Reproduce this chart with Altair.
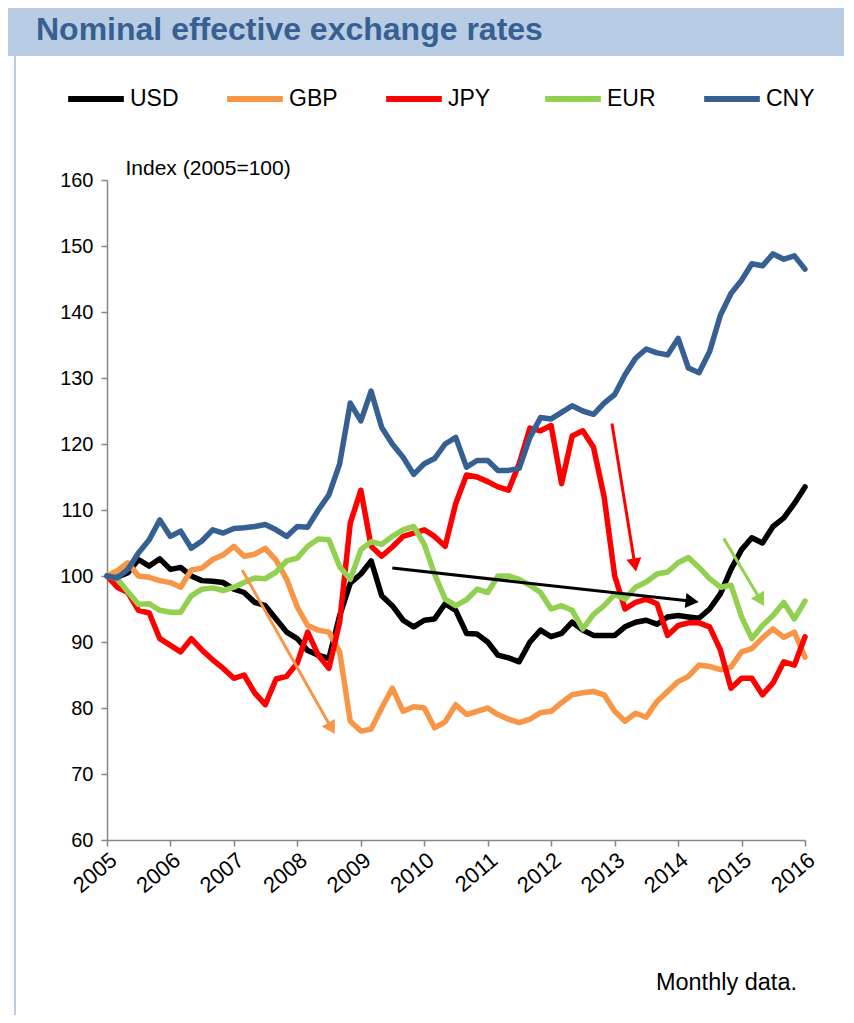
import altair as alt
import pandas as pd

# Bi-monthly readings, Jan 2005 .. Jan 2016 (index, 2005 = 100)
series_names = ["USD", "GBP", "JPY", "EUR", "CNY"]
series_colors = ["#000000", "#F79646", "#FF0000", "#92D050", "#376092"]

usd = [100, 99.8, 100.5, 102.5, 101.5, 102.6, 101, 101.3, 100, 99.3,
       99.2, 99, 98, 97.5, 96, 95.5, 93.5, 91.5, 90.5, 88.7,
       88, 87.5, 94, 98.9, 100.3, 102.3, 97, 95.5, 93.3, 92.3,
       93.3, 93.5, 95.8, 94.8, 91.3, 91.2, 90, 88, 87.6, 87,
       90, 91.8, 90.8, 91.3, 93, 91.8, 91, 91, 91, 92.3,
       93, 93.3, 92.7, 93.8, 94, 93.8, 93.6, 95, 97.3, 101,
       104, 105.8, 105, 107.5, 108.8, 111, 113.5]

gbp = [100, 100.8, 102, 100, 99.8, 99.3, 99, 98.3, 100.9, 101.2,
       102.5, 103.2, 104.5, 103, 103.3, 104.2, 102.4, 99.5, 95.3, 92.5,
       91.8, 91.5, 88.5, 78, 76.5, 76.8, 80, 83, 79.5, 80.2,
       80, 77, 77.9, 80.5, 79, 79.5, 80, 79, 78.3, 77.8,
       78.3, 79.3, 79.5, 80.8, 82, 82.3, 82.5, 82, 79.5, 78,
       79.2, 78.6, 81, 82.5, 84, 84.8, 86.5, 86.3, 85.8, 86.2,
       88.5, 89, 90.6, 92, 90.7, 91.5, 87.7]

jpy = [100, 98.3, 97.5, 94.8, 94.4, 90.5, 89.5, 88.5, 90.5, 88.8,
       87.3, 86, 84.5, 85, 82.3, 80.5, 84.4, 84.8, 86.8, 91.5,
       88, 86, 93, 108, 113, 104.5, 103, 104.4, 106, 106.5,
       107, 106, 104.5, 111, 115.3, 115, 114.3, 113.5, 113, 117,
       122.4, 122, 122.8, 114, 121.2, 122, 119.5, 112, 100, 95,
       96, 96.5, 95.8, 91, 92.5, 92.9, 92.9, 92.3, 88.8, 83,
       84.5, 84.5, 82, 83.8, 87, 86.5, 90.8]

eur = [100, 99.6, 97.6, 95.7, 95.8, 94.8, 94.5, 94.5, 97, 98,
       98.2, 97.8, 98.3, 99, 99.7, 99.6, 100.6, 102.3, 102.7, 104.5,
       105.6, 105.5, 101.4, 99.5, 104, 105.2, 104.8, 106, 107, 107.5,
       104.8, 100.3, 96.5, 95.5, 96.4, 98, 97.5, 100, 100, 99.5,
       98.6, 97.5, 95, 95.5, 94.8, 92, 94.2, 95.5, 97.2, 96.5,
       98.3, 99.1, 100.3, 100.6, 102, 102.8, 101.3, 99.6, 98.3, 98.6,
       93.8, 90.5, 92.5, 94, 96, 93.5, 96.2]

cny = [100, 99.7, 101, 103.5, 105.5, 108.5, 106, 106.8, 104.2, 105.3,
       107, 106.5, 107.2, 107.3, 107.5, 107.8, 107, 106, 107.5, 107.4,
       110, 112.3, 117, 126.2, 123.5, 128, 122.5, 120, 118, 115.4,
       117, 117.8, 120, 121, 116.5, 117.5, 117.5, 116, 116, 116.3,
       121, 124, 123.8, 124.8, 125.8, 125, 124.5, 126.2, 127.5, 130.5,
       133, 134.4, 133.8, 133.5, 136, 131.5, 130.8, 134, 139.5, 142.8,
       144.8, 147.3, 147, 148.8, 148, 148.5, 146.5]

dates = pd.date_range("2005-01-01", "2016-01-01", freq="2MS")

values = {"USD": usd, "GBP": gbp, "JPY": jpy, "EUR": eur, "CNY": cny}
rows = []
for s in series_names:
    for d, v in zip(dates, values[s]):
        rows.append({"date": d, "series": s, "value": v, "order": series_names.index(s)})
df = pd.DataFrame(rows)

# Annotation arrows (start / end in data units)
arrow_color = ["#F79646", "#FF0000", "#000000", "#92D050"]
arrow_x1 = pd.to_datetime(["2007-02-18", "2012-12-16", "2009-07-01", "2014-09-20"])
arrow_y1 = [100.9, 123.1, 101.2, 105.7]
arrow_x2 = pd.to_datetime(["2008-07-10", "2013-04-25", "2014-03-10", "2015-04-15"])
arrow_y2 = [77.2, 102.0, 96.2, 96.6]
arrow_angle = [150.5, 170.4, 96.6, 149.5]
arrows = pd.DataFrame({"c": arrow_color, "x1": arrow_x1, "y1": arrow_y1,
                       "x2": arrow_x2, "y2": arrow_y2, "a": arrow_angle})

FONT = "Liberation Sans"
W, H = 698, 660

x_enc = alt.X("date:T",
              scale=alt.Scale(domain=[alt.DateTime(year=2005, month=1, date=1),
                                      alt.DateTime(year=2016, month=1, date=1)]),
              axis=alt.Axis(values=[alt.DateTime(year=y, month=1, date=1) for y in range(2005, 2017)],
                            format="%Y", title=None, grid=False, labelAngle=-40,
                            labelAlign="right", labelBaseline="top", labelFontSize=22,
                            labelFont=FONT, labelColor="#000000", labelPadding=3,
                            domainColor="#868686", tickColor="#868686", tickSize=6,
                            domainWidth=1.5, tickWidth=1.5))
y_enc = alt.Y("value:Q",
              scale=alt.Scale(domain=[60, 160], nice=False, zero=False),
              axis=alt.Axis(values=list(range(60, 161, 10)), title="Index (2005=100)",
                            titleAngle=0, titleAlign="left", titleBaseline="middle",
                            titleX=18, titleY=-12, titleFontSize=21, titleFontWeight="normal",
                            titleFont=FONT, titleColor="#000000",
                            grid=False, labelFontSize=20, labelFont=FONT, labelColor="#000000",
                            labelPadding=8, domainColor="#868686", tickColor="#868686",
                            tickSize=6, domainWidth=1.5, tickWidth=1.5))

lines = alt.Chart(df).mark_line(strokeWidth=5.5, strokeJoin="round", strokeCap="round").encode(
    x=x_enc,
    y=y_enc,
    color=alt.Color("series:N",
                    scale=alt.Scale(domain=series_names, range=series_colors),
                    legend=alt.Legend(orient="none", legendX=-42, legendY=-112,
                                      direction="horizontal", columns=5, title=None,
                                      gridAlign="all",
                                      symbolType="stroke", symbolStrokeWidth=6,
                                      symbolSize=3100, labelFontSize=23, labelFont=FONT,
                                      labelColor="#000000", labelOffset=3,
                                      columnPadding=36)),
    order=alt.Order("order:Q"),
)

arrow_shaft = alt.Chart(arrows).mark_rule(strokeWidth=3).encode(
    x="x1:T", y="y1:Q", x2="x2:T", y2="y2:Q",
    color=alt.Color("c:N", scale=None, legend=None),
)
arrow_head = alt.Chart(arrows).mark_point(shape="triangle", filled=True, size=230, opacity=1).encode(
    x="x2:T", y="y2:Q",
    color=alt.Color("c:N", scale=None, legend=None),
    angle=alt.Angle("a:Q", scale=None),
)

one = pd.DataFrame({"k": [0]})
band = alt.Chart(one).mark_rect(color="#B8CCE4").encode(
    x=alt.value(-99), x2=alt.value(W + 39), y=alt.value(-172), y2=alt.value(-124))
left_rule = alt.Chart(one).mark_rule(color="#B8CCE4", strokeWidth=2).encode(
    x=alt.value(-92), y=alt.value(-124), y2=alt.value(H + 175))
title = alt.Chart(one).mark_text(text="Nominal effective exchange rates", font=FONT,
                                 fontSize=32, fontWeight="bold", color="#376092",
                                 align="left", baseline="alphabetic").encode(
    x=alt.value(-71), y=alt.value(-140))
note = alt.Chart(one).mark_text(text="Monthly data.", font=FONT, fontSize=23.5,
                                color="#000000", align="right", baseline="middle").encode(
    x=alt.value(690), y=alt.value(803))

chart = alt.layer(band, left_rule, title, note, lines, arrow_shaft, arrow_head).properties(
    width=W, height=H,
    padding={"left": 99, "top": 172, "right": 39, "bottom": 175},
    autosize=alt.AutoSizeParams(type="none"),
).configure_view(stroke=None)

chart.save("out.html", embed_options={"renderer": "svg", "actions": False})
